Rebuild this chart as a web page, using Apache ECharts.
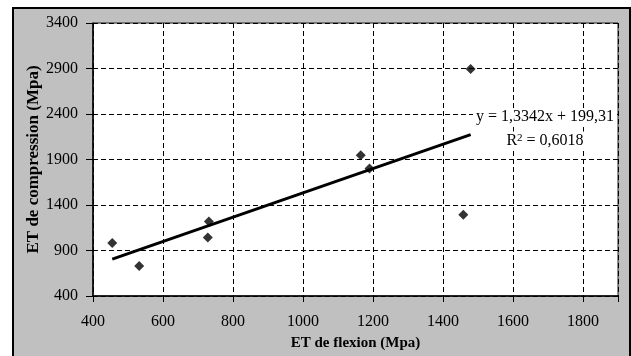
<!DOCTYPE html>
<html>
<head>
<meta charset="utf-8">
<script src="https://cdn.jsdelivr.net/npm/echarts@6/dist/echarts.min.js"></script>
<style>
html,body{margin:0;padding:0;background:#fff;width:631px;height:356px;overflow:hidden;}
#frame{position:absolute;left:12px;top:7px;width:615px;height:360px;border:2px solid #000;background:#C0C0C0;}
#chart{position:absolute;left:0;top:0;width:631px;height:356px;}
</style>
</head>
<body>
<div id="frame"></div>
<div id="chart"></div>
<script>
// Data
const flexion = [455, 532, 731, 728, 1165, 1190, 1479, 1458];
const compression = [982, 729, 1219, 1044, 1947, 1801, 2895, 1292];
// Linear trendline endpoints (from y = 1,3342x + 199,31 over the data range)
const trendX = [455, 1479];
const trendY = [806, 2173];
const xTicks = [400, 600, 800, 1000, 1200, 1400, 1600, 1800];
const yTicks = [400, 900, 1400, 1900, 2400, 2900, 3400];
const eqText = 'y = 1,3342x + 199,31';
const r2Text = 'R{sup|2} = 0,6018';
const xTitle = 'ET de flexion (Mpa)';
const yTitle = 'ET de compression (Mpa)';

const FONT = "'Liberation Serif', 'Times New Roman', serif";
const chart = echarts.init(document.getElementById('chart'), null, {renderer: 'canvas'});
const dashed = {color: '#000', width: 1, type: [5, 3]};
chart.setOption({
  animation: false,
  backgroundColor: 'transparent',
  grid: {left: 93, top: 23, right: 13, bottom: 59, show: true, backgroundColor: '#fff', borderColor: '#202020', borderWidth: 1},
  xAxis: {
    type: 'value', min: xTicks[0], max: 1900, interval: 200,
    name: xTitle, nameLocation: 'middle', nameGap: 40, nameMoveOverlap: false,
    nameTextStyle: {fontFamily: FONT, fontWeight: 'bold', fontSize: 15, color: '#000'},
    axisLine: {lineStyle: {color: '#000', width: 1.5}},
    axisTick: {show: true, length: 6, lineStyle: {color: '#000', width: 1}},
    axisLabel: {fontFamily: FONT, fontSize: 16, color: '#000', margin: 18,
      formatter: v => xTicks.includes(v) ? String(v) : ''},
    splitLine: {show: true, lineStyle: dashed}
  },
  yAxis: {
    type: 'value', min: yTicks[0], max: yTicks[yTicks.length - 1], interval: 500,
    name: yTitle, nameLocation: 'middle', nameGap: 51, nameRotate: 90, nameMoveOverlap: false,
    nameTextStyle: {fontFamily: FONT, fontWeight: 'bold', fontSize: 17, color: '#000'},
    axisLine: {show: true, lineStyle: {color: '#000', width: 1.5}},
    axisTick: {show: true, length: 7, lineStyle: {color: '#000', width: 1}},
    axisLabel: {fontFamily: FONT, fontSize: 16, color: '#000', margin: 15,
      formatter: v => yTicks.includes(v) ? String(v) : ''},
    splitLine: {show: true, lineStyle: dashed}
  },
  series: [
    {
      type: 'line', data: trendX.map((x, i) => [x, trendY[i]]),
      showSymbol: false, symbol: 'none',
      lineStyle: {color: '#000', width: 3}, z: 3
    },
    {
      type: 'scatter', data: flexion.map((x, i) => [x, compression[i]]),
      symbol: 'diamond', symbolSize: 10,
      itemStyle: {color: '#000'}, z: 4
    }
  ],
  graphic: [
    {type: 'text', x: 545, y: 117, z: 10, style: {text: eqText, fontFamily: FONT, fontSize: 16, fill: '#000', align: 'center', verticalAlign: 'middle', backgroundColor: '#fff', padding: [1, 3]}},
    {type: 'text', x: 545, y: 141, z: 10, style: {text: r2Text, fontFamily: FONT, fontSize: 16, fill: '#000', align: 'center', verticalAlign: 'middle', backgroundColor: '#fff', padding: [1, 3],
      rich: {sup: {fontFamily: FONT, fontSize: 11, verticalAlign: 'top', padding: [0, 0, 6, 0]}}}}
  ]
});
</script>
</body>
</html>
